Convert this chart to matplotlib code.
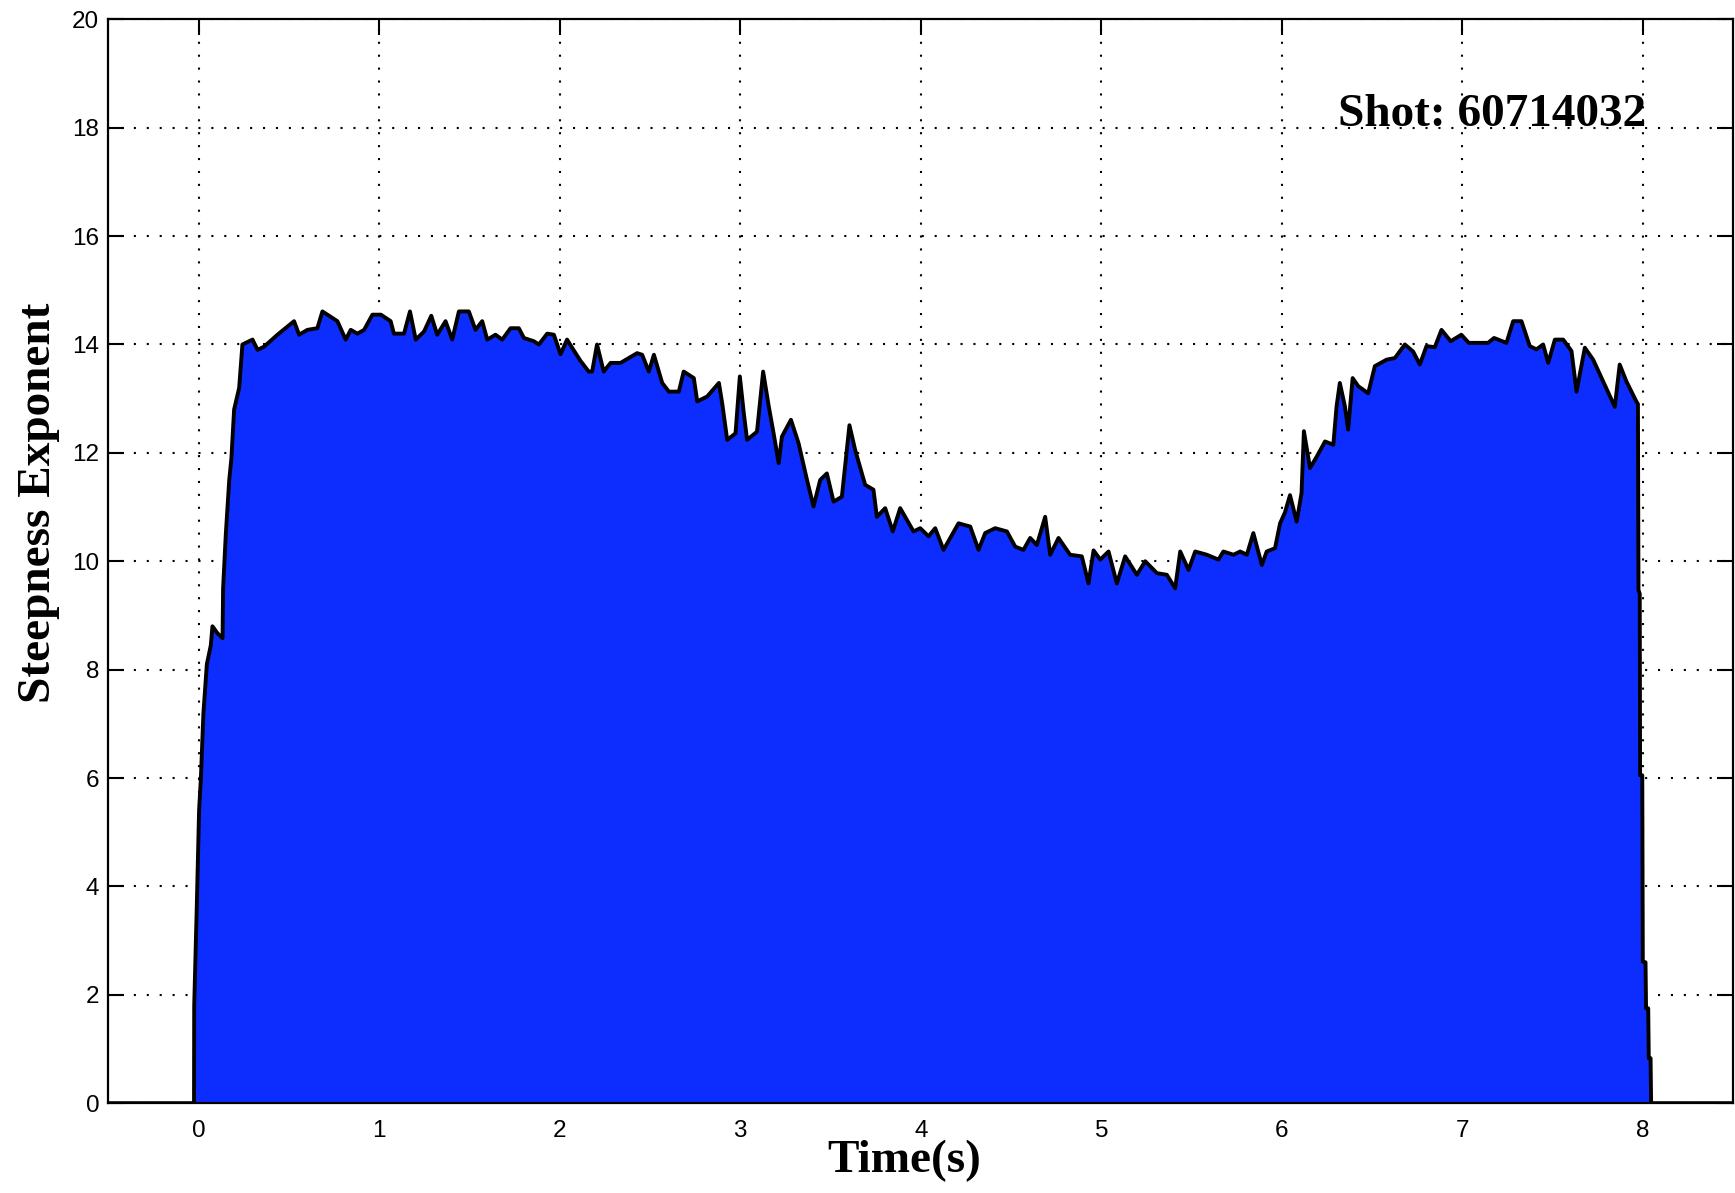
import matplotlib
matplotlib.use("Agg")
import matplotlib.pyplot as plt
import numpy as np

# steepness exponent trace for shot 60714032
time_s = [
    -0.5, -0.025, -0.024, -0.010, 0.003, 0.013, 0.027, 0.046, 0.068, 0.077,
    0.105, 0.133, 0.136, 0.151, 0.170, 0.182, 0.197, 0.225, 0.234, 0.243,
    0.299, 0.327, 0.363, 0.437, 0.529, 0.557, 0.603, 0.658, 0.686, 0.769,
    0.815, 0.843, 0.880, 0.917, 0.963, 1.010, 1.064, 1.082, 1.138, 1.171,
    1.203, 1.249, 1.289, 1.322, 1.368, 1.405, 1.442, 1.497, 1.534, 1.571,
    1.599, 1.645, 1.682, 1.728, 1.774, 1.802, 1.857, 1.885, 1.931, 1.968,
    2.005, 2.041, 2.069, 2.115, 2.161, 2.180, 2.207, 2.244, 2.282, 2.337,
    2.429, 2.457, 2.494, 2.522, 2.568, 2.605, 2.660, 2.687, 2.743, 2.762,
    2.817, 2.882, 2.900, 2.928, 2.974, 2.998, 3.020, 3.038, 3.093, 3.127,
    3.158, 3.185, 3.213, 3.231, 3.281, 3.323, 3.370, 3.406, 3.443, 3.480,
    3.517, 3.563, 3.605, 3.637, 3.692, 3.738, 3.757, 3.803, 3.845, 3.886,
    3.960, 3.997, 4.043, 4.080, 4.126, 4.209, 4.274, 4.320, 4.357, 4.412,
    4.477, 4.523, 4.569, 4.606, 4.643, 4.689, 4.717, 4.763, 4.827, 4.892,
    4.929, 4.957, 4.994, 5.040, 5.086, 5.132, 5.197, 5.243, 5.308, 5.363,
    5.409, 5.437, 5.483, 5.520, 5.584, 5.649, 5.676, 5.732, 5.769, 5.806,
    5.842, 5.889, 5.916, 5.962, 5.990, 6.017, 6.045, 6.082, 6.109, 6.122,
    6.156, 6.193, 6.239, 6.285, 6.303, 6.321, 6.349, 6.367, 6.392, 6.423,
    6.478, 6.515, 6.580, 6.626, 6.681, 6.727, 6.764, 6.801, 6.847, 6.884,
    6.935, 6.994, 7.035, 7.142, 7.175, 7.244, 7.281, 7.327, 7.373, 7.410,
    7.447, 7.475, 7.512, 7.558, 7.604, 7.632, 7.659, 7.678, 7.724, 7.779,
    7.844, 7.871, 7.908, 7.963, 7.972, 7.975, 7.982, 7.984, 7.996, 7.999,
    8.014, 8.017, 8.029, 8.032, 8.042, 8.045, 8.5,
]
steepness = [
    0.0, 0.0, 1.80, 3.60, 5.40, 6.00, 7.20, 8.10, 8.45, 8.80,
    8.67, 8.58, 9.50, 10.50, 11.50, 11.90, 12.80, 13.20, 13.60, 14.00,
    14.09, 13.90, 13.96, 14.18, 14.43, 14.18, 14.27, 14.30, 14.61, 14.43,
    14.09, 14.27, 14.20, 14.27, 14.55, 14.55, 14.43, 14.20, 14.20, 14.61,
    14.09, 14.24, 14.53, 14.18, 14.43, 14.09, 14.61, 14.61, 14.27, 14.43,
    14.09, 14.18, 14.09, 14.30, 14.30, 14.12, 14.06, 14.00, 14.20, 14.18,
    13.82, 14.09, 13.94, 13.70, 13.50, 13.50, 14.00, 13.50, 13.66, 13.66,
    13.84, 13.81, 13.50, 13.81, 13.29, 13.13, 13.13, 13.50, 13.38, 12.95,
    13.04, 13.29, 12.92, 12.24, 12.36, 13.41, 12.73, 12.24, 12.39, 13.50,
    12.86, 12.36, 11.81, 12.30, 12.61, 12.18, 11.50, 11.01, 11.50, 11.62,
    11.10, 11.19, 12.51, 12.05, 11.41, 11.32, 10.82, 10.98, 10.55, 10.98,
    10.55, 10.61, 10.46, 10.61, 10.21, 10.70, 10.64, 10.21, 10.52, 10.61,
    10.55, 10.27, 10.21, 10.43, 10.30, 10.82, 10.12, 10.43, 10.12, 10.09,
    9.59, 10.20, 10.03, 10.18, 9.59, 10.09, 9.75, 10.00, 9.78, 9.75,
    9.50, 10.18, 9.84, 10.18, 10.12, 10.03, 10.18, 10.12, 10.18, 10.12,
    10.52, 9.93, 10.18, 10.24, 10.70, 10.90, 11.22, 10.73, 11.26, 12.40,
    11.72, 11.93, 12.21, 12.15, 12.86, 13.29, 12.86, 12.43, 13.38, 13.23,
    13.10, 13.60, 13.72, 13.75, 14.00, 13.87, 13.63, 13.97, 13.95, 14.27,
    14.06, 14.18, 14.03, 14.03, 14.12, 14.03, 14.43, 14.43, 13.97, 13.91,
    14.00, 13.66, 14.09, 14.09, 13.88, 13.13, 13.60, 13.94, 13.72, 13.32,
    12.85, 13.63, 13.32, 12.95, 12.90, 9.47, 9.40, 6.05, 6.05, 2.61,
    2.60, 1.75, 1.75, 0.83, 0.83, 0.0, 0.0,
]
shot_label = "Shot: 60714032"
x_ticks = list(range(0, 9))
y_ticks = list(range(0, 21, 2))

t = np.array(time_s)
s = np.array(steepness)

fig = plt.figure(figsize=(17.35, 11.93), dpi=100)
ax = fig.add_axes([0.0624, 0.0753, 0.9366, 0.9085])

ax.fill_between(t, s, 0, color='#0d2dff', linewidth=0, zorder=2)
ax.plot(t, s, color='black', linewidth=2.8, zorder=3)

ax.set_xlim(-0.5, 8.5)
ax.set_ylim(0, 20)
ax.set_xticks(x_ticks)
ax.set_yticks(y_ticks)

ax.set_axisbelow(True)
ax.grid(True, color='black', linewidth=1.5, linestyle=(0, (1, 5.2)))

ax.tick_params(direction='in', length=11.5, width=1.5, top=True, right=True,
               labelsize=17.5, color='black')
ax.tick_params(axis='x', pad=12)
ax.tick_params(axis='y', pad=6.5)
for lab in ax.get_xticklabels() + ax.get_yticklabels():
    lab.set_fontfamily('Liberation Sans')

for sp in ax.spines.values():
    sp.set_linewidth(1.6)
    sp.set_zorder(4)

label_font = dict(family='Liberation Serif', weight='bold', size=34)
ax.set_xlabel('Time(s)', **label_font)
ax.xaxis.label.set_verticalalignment('baseline')
ax.xaxis.set_label_coords(0.4897, -0.0635)
ax.set_ylabel('Steepness Exponent', **label_font)
ax.yaxis.set_label_coords(-0.0297, 0.554)

ax.text(6.31, 18.03, shot_label, ha='left', va='baseline', zorder=5,
        **label_font)

fig.savefig('out.png', dpi=100)
